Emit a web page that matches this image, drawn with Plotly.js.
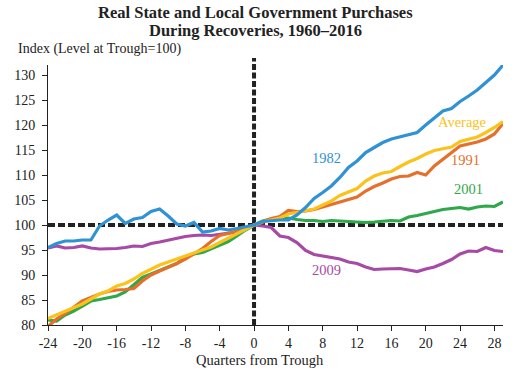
<!DOCTYPE html>
<html>
<head>
<meta charset="utf-8">
<script src="https://cdn.plot.ly/plotly-3.0.1.min.js"></script>
<style>html,body{margin:0;padding:0;background:#fff}#chart{width:530px;height:373px}</style>
</head>
<body>
<div id="chart"></div>
<script>
const quarters = [];
for (let q = -24; q <= 29; q++) quarters.push(q);

const r1982 = [95.5,96.3,96.8,96.8,97,97,99.8,101,102,100.3,101.2,101.5,102.7,103.2,101.8,100.2,99.8,100.5,98.6,98.8,99.3,99,99.3,99.6,
  100,100.7,100.9,101,101,102,103.5,105.3,106.5,107.8,109.5,111.5,112.8,114.5,115.5,116.5,117.2,117.6,118,118.5,120,121.5,122.8,123.3,124.7,125.8,127,128.5,130,132];
const rAverage = [81.3,82,82.8,83.5,84.2,85.2,86.2,86.8,87.8,88.3,89.2,90.3,91.2,92,92.6,93.2,93.8,94.3,95,95.6,96.5,97.4,98.3,99.2,
  100,100.6,101,101.4,102.2,102.5,102.8,103.2,104,104.8,105.9,106.6,107.3,108.8,109.8,110.4,110.7,111.7,112.6,113.3,114.2,114.9,115.3,115.6,116.7,117.1,117.6,118.5,119.5,120.7];
const r1991 = [79.7,81.2,82.3,83.5,84.8,85.5,86.2,86.7,87,87.1,87.3,88.8,90,90.8,91.5,92.3,93.2,94.2,95.3,96.7,97.9,98.3,98.8,99.3,
  100,100.7,101.3,101.7,102.9,102.7,102.8,103.1,103.6,104.1,104.7,105.1,105.6,106.8,107.7,108.4,109.2,109.7,109.8,110.5,110,111.8,113.2,114.5,115.8,116.2,116.6,117.2,118.2,120.3];
const r2001 = [81,80.8,82,82.8,83.8,84.8,85.1,85.4,85.8,86.6,88,89.5,90.2,90.9,91.5,92.3,93.5,94.2,94.5,95.2,95.9,96.7,97.8,99,
  100,100.8,101.2,101.3,101.4,101.1,100.9,100.9,100.7,100.9,100.8,100.6,100.5,100.5,100.6,100.8,100.9,100.8,101.6,101.9,102.3,102.7,103.1,103.3,103.5,103.2,103.6,103.8,103.7,104.6];
const r2009 = [95.4,95.8,95.4,95.5,95.8,95.4,95.2,95.2,95.3,95.5,95.8,95.7,96.3,96.6,97,97.4,97.7,97.9,98,97.9,98.1,98.3,98.6,99.1,
  100,99.8,99.5,97.8,97.5,96.5,94.9,94.1,93.8,93.5,93.2,92.6,92.3,91.6,91.1,91.2,91.2,91.3,91,90.7,91.2,91.6,92.3,93.1,94.2,94.8,94.7,95.5,94.9,94.7];

const xTickVals = [-24,-20,-16,-12,-8,-4,0,4,8,12,16,20,24,28];
const xTickText = ["-24","-20","-16","-12","-8","-4","0","4","8","12","16","20","24","28"];
const yTickVals = [80,85,90,95,100,105,110,115,120,125,130];

const titleLines = ["Real State and Local Government Purchases", "During Recoveries, 1960–2016"];

const colors = {c1982:"#2e92d4", avg:"#fcc21c", c1991:"#e66f2b", c2001:"#2fa84c", c2009:"#a64aa6"};
const serif = "Liberation Serif, Times New Roman, serif";

function tr(y, color){
  return {x: quarters, y: y, type:"scatter", mode:"lines", line:{color:color, width:3.2}, hoverinfo:"skip"};
}
const data = [
  tr(r2009, colors.c2009),
  tr(r2001, colors.c2001),
  tr(r1991, colors.c1991),
  tr(rAverage, colors.avg),
  tr(r1982, colors.c1982)
];

const layout = {
  width:530, height:373,
  margin:{l:48, r:27, t:65, b:48},
  paper_bgcolor:"#fff", plot_bgcolor:"#fff",
  showlegend:false,
  font:{family:serif, color:"#222", size:14},
  xaxis:{range:[-24,29], tickvals:xTickVals, ticktext:xTickText, ticks:"outside", ticklen:5, tickcolor:"#222",
    showline:true, linecolor:"#222", linewidth:1, showgrid:false, zeroline:false,
    tickfont:{family:serif, size:14, color:"#222"}},
  yaxis:{range:[80,132], tickvals:yTickVals, ticks:"outside", ticklen:5, tickcolor:"#222",
    showline:true, linecolor:"#222", linewidth:1, showgrid:false, zeroline:false,
    tickfont:{family:serif, size:14, color:"#222"}, ticklabelstandoff:4},
  shapes:[
    {type:"line", xref:"x", yref:"y", x0:-24, x1:29, y0:100, y1:100, layer:"below",
      line:{color:"#222", width:4, dash:"7px,3px"}},
    {type:"line", xref:"x", yref:"paper", x0:0, x1:0, y0:0, y1:1.027, layer:"below",
      line:{color:"#222", width:4, dash:"6px,2.5px"}}
  ],
  annotations:[
    {text:"<b>"+titleLines[0]+"</b>", xref:"paper", yref:"paper", x:0.457, y:1 + (65-12.5)/260, xanchor:"center", yanchor:"middle", showarrow:false, font:{family:serif, size:16.5, color:"#222"}},
    {text:"<b>"+titleLines[1]+"</b>", xref:"paper", yref:"paper", x:0.457, y:1 + (65-30.5)/260, xanchor:"center", yanchor:"middle", showarrow:false, font:{family:serif, size:16.5, color:"#222"}},
    {text:"Index (Level at Trough=100)", xref:"paper", yref:"paper", x:-0.0703, y:1.0615, xanchor:"left", yanchor:"middle", showarrow:false, font:{family:serif, size:14, color:"#222"}},
    {text:"Quarters from Trough", xref:"paper", yref:"paper", x:0.466, y:-0.135, xanchor:"center", yanchor:"middle", showarrow:false, font:{family:serif, size:14.5, color:"#222"}},
    {text:"1982", x:8.4, y:113.4, xref:"x", yref:"y", showarrow:false, font:{family:serif, size:14.5, color:colors.c1982}},
    {text:"Average", x:24.2, y:120.66, xref:"x", yref:"y", showarrow:false, font:{family:serif, size:14.5, color:colors.avg}},
    {text:"1991", x:24.6, y:113, xref:"x", yref:"y", showarrow:false, font:{family:serif, size:14.5, color:colors.c1991}},
    {text:"2001", x:25, y:107.3, xref:"x", yref:"y", showarrow:false, font:{family:serif, size:14.5, color:colors.c2001}},
    {text:"2009", x:8.4, y:91, xref:"x", yref:"y", showarrow:false, font:{family:serif, size:14.5, color:colors.c2009}}
  ]
};

Plotly.newPlot("chart", data, layout, {displayModeBar:false, staticPlot:true});
</script>
</body>
</html>
